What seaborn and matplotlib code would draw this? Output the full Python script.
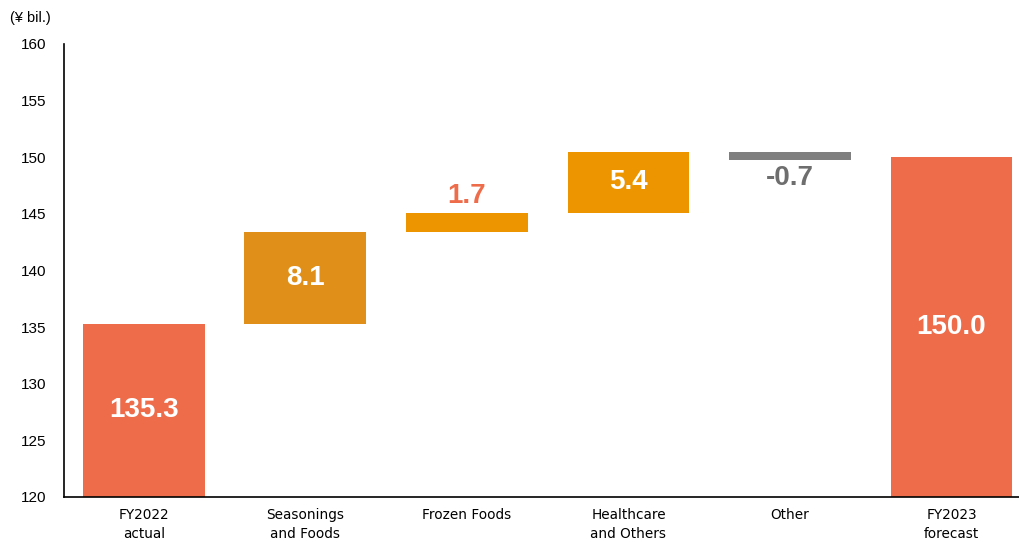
import numpy as np
import pandas as pd
import matplotlib
matplotlib.use("Agg")
import matplotlib.pyplot as plt
import seaborn as sns

# Operating profit bridge, FY2022 actual -> FY2023 forecast (¥ bil.)
categories = ["FY2022\nactual", "Seasonings\nand Foods", "Frozen Foods",
              "Healthcare\nand Others", "Other", "FY2023\nforecast"]
values = [135.3, 8.1, 1.7, 5.4, -0.7, 150.0]
is_total = [True, False, False, False, False, True]
y_ticks = [120, 125, 130, 135, 140, 145, 150, 155, 160]

bar_colors = ["#EE6C4A", "#E09018", "#EC9500", "#EC9500", "#7F7F7F", "#EE6C4A"]
label_colors = ["white", "white", "#EE6C4A", "white", "#6E6E6E", "white"]
label_place = ["center", "center", "above", "center", "below", "center"]

# waterfall bottoms: totals stand on zero, steps start at the running sum
bottoms = []
running = 0.0
for v, tot in zip(values, is_total):
    if tot:
        bottoms.append(0.0)
        running = v
    else:
        bottoms.append(running)
        running += v

df = pd.DataFrame({"category": categories, "value": values, "bottom": bottoms})

sns.set_theme(style="white")
plt.rcParams["font.family"] = ["Liberation Sans", "DejaVu Sans"]

fig = plt.figure(figsize=(10.2, 5.42), dpi=100)
ax = fig.add_axes([64 / 1020, 1 - 497 / 542, (1020 - 64) / 1020, (497 - 44) / 542])

sns.barplot(data=df, x="category", y="value", bottom=df["bottom"].to_numpy(),
            order=categories, width=0.755, color=bar_colors[0],
            linewidth=0, ax=ax)
for patch, c in zip(ax.patches, bar_colors):
    patch.set_facecolor(c)
    patch.set_edgecolor("none")

ax.set_ylim(120, 160)
ax.set_xlim(-0.495, 5.424)
ax.set_yticks(y_ticks)
ax.set_yticklabels([str(t) for t in y_ticks], fontsize=11, color="black")
ax.tick_params(axis="y", length=0, pad=13)
ax.tick_params(axis="x", length=0, pad=8)
for lbl in ax.get_xticklabels():
    lbl.set_fontfamily("DejaVu Sans")
    lbl.set_fontsize(9.8)
    lbl.set_linespacing(1.4)
    lbl.set_color("black")
ax.set_xlabel("")
ax.set_ylabel("")

for side in ("top", "right"):
    ax.spines[side].set_visible(False)
for side in ("left", "bottom"):
    ax.spines[side].set_color("black")
    ax.spines[side].set_linewidth(1.2)

# value labels
for i, (v, b, place, col) in enumerate(zip(values, bottoms, label_place, label_colors)):
    lo, hi = sorted([b, b + v])
    if place == "center":
        y = (max(lo, 120) + hi) / 2
        va = "center"
        off = 0
    elif place == "above":
        y = hi
        va = "bottom"
        off = 3
    else:
        y = lo
        va = "top"
        off = -4
    ax.annotate(f"{v:.1f}", xy=(i, y), xytext=(0, off), textcoords="offset points",
                ha="center", va=va, fontsize=20, fontweight="bold", color=col)

fig.text(10 / 1020, 1 - 18 / 542, "(¥ bil.)", fontsize=10.5, ha="left", va="center",
         color="black")

fig.savefig("out.png", dpi=100, facecolor="white")
